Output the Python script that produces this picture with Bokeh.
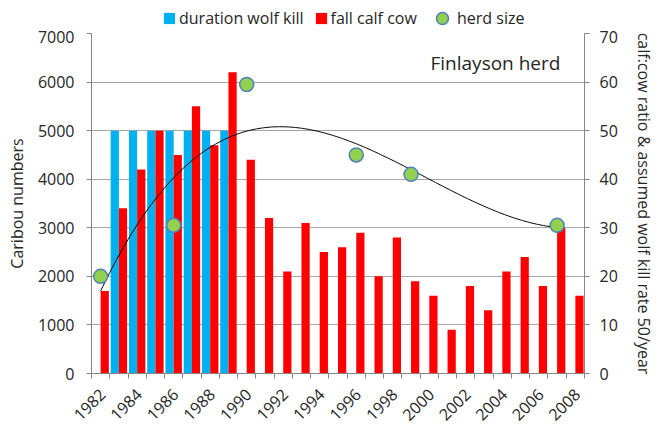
import numpy as np
from math import pi
from bokeh.plotting import figure
from bokeh.layouts import column
from bokeh.models import (Range1d, LinearAxis, FixedTicker, Legend, LegendItem,
                          ColumnDataSource, Label)
from bokeh.transform import dodge
from bokeh.embed import file_html
from bokeh.resources import INLINE

# ---- data ----
years = [1982, 1983, 1984, 1985, 1986, 1987, 1988, 1989, 1990, 1991, 1992, 1993, 1994,
         1995, 1996, 1997, 1998, 1999, 2000, 2001, 2002, 2003, 2004, 2005, 2006, 2007, 2008]
fall_calf_cow = [17, 34, 42, 50, 45, 55, 47, 62, 44, 32, 21, 31, 25,
                 26, 29, 20, 28, 19, 16, 9, 18, 13, 21, 24, 18, 30, 16]
wolf_years = [1983, 1984, 1985, 1986, 1987, 1988, 1989]
wolf_kill = [50, 50, 50, 50, 50, 50, 50]
herd_years = [1982, 1986, 1990, 1996, 1999, 2007]
herd_size = [2000, 3050, 5950, 4500, 4100, 3050]
x_tick_years = [1982, 1984, 1986, 1988, 1990, 1992, 1994, 1996, 1998, 2000, 2002, 2004, 2006, 2008]
x_tick_labels = ["1982", "1984", "1986", "1988", "1990", "1992", "1994", "1996", "1998",
                 "2000", "2002", "2004", "2006", "2008"]
left_ticks = [0, 1000, 2000, 3000, 4000, 5000, 6000, 7000]
right_ticks = [0, 10, 20, 30, 40, 50, 60, 70]

FONT = "Open Sans"
GRAY = "#868686"
TXT = "#262626"
BLUE = "#00b0f0"
RED = "#ff0000"
GREEN = "#92d050"
EDGE = "#4f81bd"
LABEL_SHIFT = 0.1  # small nudge of the rotated year labels

LEG_H = 30
p = figure(width=658, height=428 - LEG_H, x_range=Range1d(1981.5, 2008.5),
           y_range=Range1d(0, 7000), output_backend="svg", toolbar_location=None,
           min_border_left=91, min_border_right=74, min_border_top=33 - LEG_H,
           min_border_bottom=54)
p.extra_y_ranges = {"right": Range1d(0, 70)}
p.outline_line_color = None
p.background_fill_color = "white"
p.border_fill_color = "white"
p.xgrid.visible = False
p.ygrid.grid_line_color = "#a6a6a6"
p.ygrid.grid_line_width = 1

calf_src = ColumnDataSource(dict(year=years, val=fall_calf_cow))
wolf_src = ColumnDataSource(dict(year=wolf_years, val=wolf_kill))
herd_src = ColumnDataSource(dict(year=herd_years, val=herd_size))

p.vbar(x=dodge("year", -0.225, range=p.x_range), top="val", width=0.45, source=wolf_src,
       fill_color=BLUE, line_color=None, y_range_name="right")
p.vbar(x=dodge("year", 0.225, range=p.x_range), top="val", width=0.45, source=calf_src,
       fill_color=RED, line_color=None, y_range_name="right")

# polynomial (order 3) trendline through herd size, as in the original spreadsheet
coef = np.polyfit(herd_years, herd_size, 3)
tx = np.linspace(herd_years[0], herd_years[-1], 200)
p.line(tx, np.polyval(coef, tx), line_color="black", line_width=1)

p.scatter(x="year", y="val", source=herd_src, size=14, fill_color=GREEN,
          line_color=EDGE, line_width=1.5)

# x axis: tick marks at category boundaries, rotated labels at every other year
xa = p.xaxis[0]
label_pos = [y + LABEL_SHIFT for y in x_tick_years]
xa.ticker = FixedTicker(ticks=label_pos,
                        minor_ticks=[y - 0.5 for y in years] + [years[-1] + 0.5])
xa.major_label_overrides = {pos: lab for pos, lab in zip(label_pos, x_tick_labels)}
xa.major_label_orientation = pi / 4
xa.major_label_standoff = 13
xa.major_label_text_font = FONT
xa.major_label_text_font_size = "16px"
xa.major_label_text_color = TXT
xa.major_tick_out = 0
xa.major_tick_in = 0
xa.minor_tick_out = 5
xa.minor_tick_in = 0
xa.minor_tick_line_color = GRAY
xa.axis_line_color = GRAY

# left axis
ya = p.yaxis[0]
ya.ticker = FixedTicker(ticks=left_ticks)
ya.axis_label = "Caribou numbers"
ya.axis_label_text_font = FONT
ya.axis_label_text_font_size = "16px"
ya.axis_label_text_font_style = "normal"
ya.axis_label_text_color = TXT
ya.axis_label_standoff = 7
ya.major_label_text_font = FONT
ya.major_label_text_font_size = "16px"
ya.major_label_text_color = TXT
ya.major_label_standoff = 12
ya.axis_line_color = GRAY
ya.major_tick_line_color = GRAY
ya.major_tick_out = 5
ya.major_tick_in = 0
ya.minor_tick_line_color = None

# right axis
ra = LinearAxis(y_range_name="right", ticker=FixedTicker(ticks=right_ticks),
                axis_label="calf:cow ratio & assumed wolf kill rate 50/year")
ra.axis_label_text_font = FONT
ra.axis_label_text_font_size = "16px"
ra.axis_label_text_font_style = "normal"
ra.axis_label_text_color = TXT
ra.axis_label_standoff = 12
ra.major_label_text_font = FONT
ra.major_label_text_font_size = "16px"
ra.major_label_text_color = TXT
ra.major_label_standoff = 10
ra.axis_line_color = GRAY
ra.major_tick_line_color = GRAY
ra.major_tick_out = 5
ra.major_tick_in = 0
ra.minor_tick_line_color = None
p.add_layout(ra, "right")

p.add_layout(Label(x=339, y=311, x_units="screen", y_units="screen", text="Finlayson herd",
                   text_font=FONT, text_font_size="19px", text_baseline="middle",
                   text_color=TXT))

# ---- legend strip above the chart (same series; the strip's y range lies above all
# values, so only the legend entries are drawn there) ----
lf = figure(width=658, height=LEG_H, x_range=Range1d(1981.5, 2008.5),
            y_range=Range1d(10000, 10001), output_backend="svg", toolbar_location=None,
            min_border=0)
lf.axis.visible = False
lf.grid.visible = False
lf.outline_line_color = None
lf.background_fill_color = "white"
lf.border_fill_color = "white"
l_wolf = lf.vbar(x="year", top="val", width=0.45, source=wolf_src, fill_color=BLUE, line_color=None)
l_calf = lf.vbar(x="year", top="val", width=0.45, source=calf_src, fill_color=RED, line_color=None)
l_herd = lf.scatter(x="year", y="val", source=herd_src, size=14, fill_color=GREEN,
                    line_color=EDGE, line_width=1.5)


def style(lg):
    lg.border_line_color = None
    lg.background_fill_alpha = 0
    lg.label_text_font = FONT
    lg.label_text_font_size = "16px"
    lg.label_text_color = TXT
    lg.padding = 0
    lg.margin = 0


legend1 = Legend(items=[LegendItem(label="duration wolf kill", renderers=[l_wolf]),
                        LegendItem(label="fall calf cow", renderers=[l_calf])],
                 orientation="horizontal", location=(71, 1))
style(legend1)
legend1.glyph_width = 14
legend1.glyph_height = 14
legend1.label_standoff = 3
legend1.spacing = 10
legend1.label_height = 16
lf.add_layout(legend1)

legend2 = Legend(items=[LegendItem(label="herd size", renderers=[l_herd])],
                 orientation="horizontal", location=(336, -3))
style(legend2)
legend2.glyph_width = 30
legend2.glyph_height = 30
legend2.label_standoff = 0
legend2.label_height = 16
lf.add_layout(legend2)

layout = column(lf, p, spacing=0)
open("out.html", "w").write(file_html(layout, INLINE))
